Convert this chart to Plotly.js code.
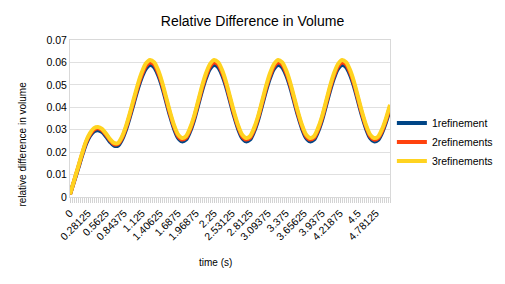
<!DOCTYPE html>
<html>
<head>
<meta charset="utf-8">
<script src="https://cdn.plot.ly/plotly-3.0.1.min.js"></script>
<style>html,body{margin:0;padding:0;background:#fff;}#chart{width:505px;height:284px;}</style>
</head>
<body>
<div id="chart"></div>
<script>
var time = [0,0.0625,0.125,0.1875,0.25,0.3125,0.375,0.4375,0.5,0.5625,0.625,0.6875,0.75,0.8125,0.875,0.9375,
  1.0,1.0625,1.125,1.1875,1.25,1.3125,1.375,1.4375,1.5,1.5625,1.625,1.6875,1.75,1.8125,1.875,1.9375,
  2.0,2.0625,2.125,2.1875,2.25,2.3125,2.375,2.4375,2.5,2.5625,2.625,2.6875,2.75,2.8125,2.875,2.9375,
  3.0,3.0625,3.125,3.1875,3.25,3.3125,3.375,3.4375,3.5,3.5625,3.625,3.6875,3.75,3.8125,3.875,3.9375,
  4.0,4.0625,4.125,4.1875,4.25,4.3125,4.375,4.4375,4.5,4.5625,4.625,4.6875,4.75,4.8125,4.875,4.9375,5.0];
var refinement1 = [0.0012,0.0068,0.0125,0.0183,0.0236,0.0272,0.0293,0.0298,0.0290,0.0270,0.0246,0.0229,0.0229,0.0256,0.0301,0.0359,
  0.0422,0.0484,0.0536,0.0573,0.0588,0.0579,0.0545,0.0493,0.0428,0.0362,0.0305,0.0264,0.0248,0.0256,0.0291,0.0342,
  0.0407,0.0473,0.0530,0.0571,0.0588,0.0579,0.0545,0.0493,0.0428,0.0362,0.0305,0.0264,0.0248,0.0256,0.0291,0.0342,
  0.0407,0.0473,0.0530,0.0571,0.0588,0.0579,0.0545,0.0493,0.0428,0.0362,0.0305,0.0264,0.0248,0.0256,0.0291,0.0342,
  0.0407,0.0473,0.0530,0.0571,0.0588,0.0579,0.0545,0.0493,0.0428,0.0362,0.0305,0.0264,0.0248,0.0254,0.0286,0.0334,0.0392];
var refinements2 = [0.0012,0.0070,0.0129,0.0189,0.0243,0.0279,0.0301,0.0306,0.0298,0.0278,0.0253,0.0236,0.0236,0.0263,0.0309,0.0368,
  0.0432,0.0495,0.0547,0.0585,0.0600,0.0591,0.0556,0.0504,0.0438,0.0371,0.0314,0.0272,0.0256,0.0264,0.0299,0.0351,
  0.0417,0.0484,0.0541,0.0583,0.0600,0.0591,0.0556,0.0504,0.0438,0.0371,0.0314,0.0272,0.0256,0.0264,0.0299,0.0351,
  0.0417,0.0484,0.0541,0.0583,0.0600,0.0591,0.0556,0.0504,0.0438,0.0371,0.0314,0.0272,0.0256,0.0264,0.0299,0.0351,
  0.0417,0.0484,0.0541,0.0583,0.0600,0.0591,0.0556,0.0504,0.0438,0.0371,0.0314,0.0272,0.0256,0.0262,0.0294,0.0343,0.0402];
var refinements3 = [0.0012,0.0072,0.0132,0.0193,0.0248,0.0285,0.0307,0.0312,0.0304,0.0283,0.0258,0.0241,0.0241,0.0269,0.0316,0.0376,
  0.0441,0.0505,0.0558,0.0596,0.0611,0.0601,0.0567,0.0514,0.0447,0.0380,0.0321,0.0279,0.0263,0.0271,0.0307,0.0359,
  0.0426,0.0494,0.0552,0.0593,0.0611,0.0601,0.0567,0.0514,0.0447,0.0380,0.0321,0.0279,0.0263,0.0271,0.0307,0.0359,
  0.0426,0.0494,0.0552,0.0593,0.0611,0.0601,0.0567,0.0514,0.0447,0.0380,0.0321,0.0279,0.0263,0.0271,0.0307,0.0359,
  0.0426,0.0494,0.0552,0.0593,0.0611,0.0601,0.0567,0.0514,0.0447,0.0380,0.0321,0.0279,0.0263,0.0269,0.0302,0.0351,0.0411];
var seriesNames = ["1refinement","2refinements","3refinements"];
var seriesColors = ["#004586","#ff420e","#ffd320"];
var tickLabels = ["0","0.28125","0.5625","0.84375","1.125","1.40625","1.6875","1.96875","2.25","2.53125","2.8125","3.09375","3.375","3.65625","3.9375","4.21875","4.5","4.78125"];
var yTicks = [0,0.01,0.02,0.03,0.04,0.05,0.06,0.07];
var yTickLabels = ["0","0.01","0.02","0.03","0.04","0.05","0.06","0.07"];

var font = "Liberation Sans, Arial, sans-serif";
var seriesData = [refinement1, refinements2, refinements3];
var traces = seriesData.map(function(vals, i){
  return {x: time, y: vals, type: 'scatter', mode: 'lines', name: seriesNames[i],
    line: {color: seriesColors[i], width: 4, shape: 'spline', smoothing: 0.8}};
});
var layout = {
  width: 505, height: 284,
  margin: {l: 70, r: 115, t: 40, b: 87, autoexpand: false},
  paper_bgcolor: '#fff', plot_bgcolor: '#fff',
  font: {family: font, size: 10.5, color: '#000'},
  title: {text: 'Relative Difference in Volume', font: {family: font, size: 14, color: '#000'},
    x: 0.5, xref: 'container', y: 0.925, yref: 'container', yanchor: 'middle'},
  showlegend: true,
  legend: {xref: 'container', yref: 'container', x: 0.776, xanchor: 'left', y: 0.5, yanchor: 'middle',
    font: {family: font, size: 10.5, color: '#000'},
    bgcolor: 'rgba(0,0,0,0)', borderwidth: 0, tracegroupgap: 0, itemwidth: 30},
  xaxis: {range: [0, 5], tickmode: 'array', tickvals: tickLabels.map(Number), ticktext: tickLabels,
    tickangle: -45, ticks: 'outside', ticklen: 5, tickcolor: '#d0d0d0', tickwidth: 1, automargin: false,
    minor: {dtick: 0.03125, tick0: 0, ticks: 'outside', ticklen: 5, tickcolor: '#d4d4d4', showgrid: false},
    showgrid: false, zeroline: false, showline: true, mirror: true, linecolor: '#d9d9d9', linewidth: 1,
    tickfont: {family: font, size: 10.5, color: '#000'}},
  yaxis: {range: [0, 0.07], tickmode: 'array', tickvals: yTicks, ticktext: yTickLabels, automargin: false,
    showgrid: true, gridcolor: '#e0e0e0', gridwidth: 1, zeroline: false,
    showline: true, mirror: true, linecolor: '#d9d9d9', linewidth: 1, ticks: '',
    tickfont: {family: font, size: 10.5, color: '#000'}},
  annotations: [
    {text: 'time (s)', xref: 'paper', yref: 'paper', x: 0.456, y: -0.417, xanchor: 'center', yanchor: 'middle',
      showarrow: false, font: {family: font, size: 10, color: '#000'}},
    {text: 'relative difference in volume', xref: 'paper', yref: 'paper', x: -0.147, y: 0.34, xanchor: 'center', yanchor: 'middle',
      textangle: -90, showarrow: false, font: {family: font, size: 10, color: '#000'}}
  ]
};
Plotly.newPlot('chart', traces, layout, {staticPlot: true, displayModeBar: false});
</script>
</body>
</html>
